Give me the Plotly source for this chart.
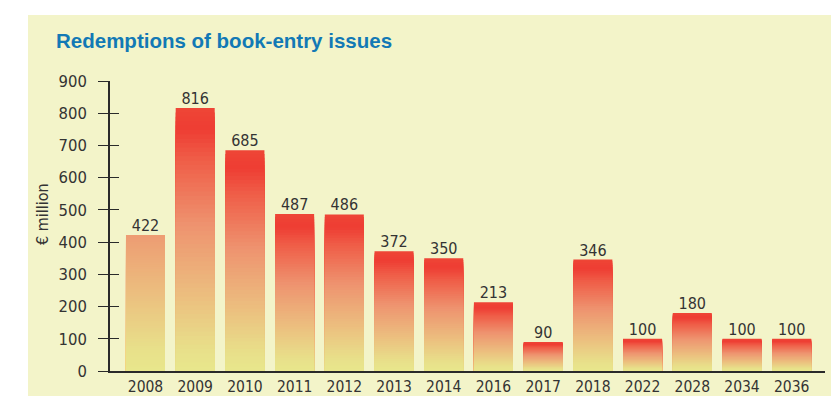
import plotly.graph_objects as go

# ---- data ----
years = ["2008", "2009", "2010", "2011", "2012", "2013", "2014",
         "2016", "2017", "2018", "2022", "2028", "2034", "2036"]
redemptions = [422, 816, 685, 487, 486, 372, 350, 213, 90, 346, 100, 180, 100, 100]
y_ticks = [0, 100, 200, 300, 400, 500, 600, 700, 800, 900]

# ---- style ----
TITLE = "Redemptions of book-entry issues"
FONT = "DejaVu Sans Condensed, Liberation Sans, Arial, sans-serif"
TFONT = "Liberation Sans, Arial, sans-serif"
CREAM = "#F3F4C9"
TEXT = "#333333"
BASE = -7          # bars extend slightly below the axis line
N = 60             # gradient bands
# fraction of the gradient reached at bar top (first bar only reaches the orange)
top_frac = [0.5] + [1.0] * (len(years) - 1)

stops = [
    (0.00, (232, 231, 140)),
    (0.08, (232, 224, 138)),
    (0.30, (236, 188, 126)),
    (0.55, (238, 148, 112)),
    (0.80, (239, 94, 72)),
    (0.92, (238, 61, 51)),
    (1.00, (238, 70, 54)),
]


def grad(t):
    for (t0, c0), (t1, c1) in zip(stops[:-1], stops[1:]):
        if t <= t1:
            f = (t - t0) / (t1 - t0) if t1 > t0 else 0
            return "rgb(%d,%d,%d)" % tuple(round(a + (b - a) * f) for a, b in zip(c0, c1))
    return "rgb(%d,%d,%d)" % stops[-1][1]


fig = go.Figure()
xidx = list(range(len(years)))

for i in range(N):
    frac = (N - i) / N
    tmid = (N - i - 0.5) / N
    fig.add_trace(go.Bar(
        x=xidx,
        y=[v * frac - BASE for v in redemptions],
        base=BASE,
        marker=dict(color=[grad(tmid * tf) for tf in top_frac], line=dict(width=0)),
        cliponaxis=False,
        hoverinfo="skip",
        showlegend=False,
    ))

fig.add_trace(go.Scatter(
    x=xidx, y=redemptions, mode="text",
    text=[str(v) for v in redemptions],
    textposition="top center",
    textfont=dict(family=FONT, size=16, color=TEXT),
    cliponaxis=False, showlegend=False, hoverinfo="skip",
))

# dummy trace on second y-axis to draw the inner half of the crossing ticks
fig.add_trace(go.Scatter(x=[None], y=[None], yaxis="y2", showlegend=False))

L, R, T, B = 110, 6, 81, 25
W, H = 831, 396
pw, ph = W - L - R, H - T - B

fig.update_layout(
    width=W, height=H,
    margin=dict(l=L, r=R, t=T, b=B, pad=0, autoexpand=False),
    paper_bgcolor="white",
    plot_bgcolor="rgba(0,0,0,0)",
    barmode="overlay",
    bargap=0.215,
    showlegend=False,
    font=dict(family=FONT, color=TEXT),
    xaxis=dict(
        range=[-0.714, 13.67],
        tickmode="array", tickvals=xidx, ticktext=years,
        tickfont=dict(size=15.5, color=TEXT),
        showgrid=False, zeroline=False,
        showline=True, linecolor="#2a2a2a", linewidth=1.5,
        ticks="", ticklabelstandoff=1, automargin=False,
        fixedrange=True,
    ),
    yaxis=dict(
        range=[0, 900],
        tickmode="array", tickvals=y_ticks,
        tickfont=dict(size=16.5, color=TEXT),
        showgrid=False, zeroline=False,
        showline=True, linecolor="#2a2a2a", linewidth=1.5,
        ticks="outside", ticklen=10, tickwidth=1.2, tickcolor="#2a2a2a",
        ticklabelstandoff=8, automargin=False,
        fixedrange=True,
    ),
    yaxis2=dict(
        range=[0, 900], overlaying="y", side="left", anchor="x",
        tickmode="array", tickvals=y_ticks,
        showticklabels=False, showgrid=False, zeroline=False, showline=False,
        ticks="inside", ticklen=9, tickwidth=1.2, tickcolor="#2a2a2a",
        automargin=False, fixedrange=True,
    ),
    shapes=[dict(
        type="rect", xref="paper", yref="paper", layer="below",
        x0=(28 - L) / pw, x1=(W - L) / pw + 0.01,
        y0=-(B + 5) / ph, y1=1 + (T - 15) / ph,
        fillcolor=CREAM, line=dict(width=0),
    )],
    annotations=[
        dict(text="<b>" + TITLE + "</b>", xref="paper", yref="paper",
             x=(54 - L) / pw, y=1 + (T - 40) / ph, xanchor="left", yanchor="middle",
             showarrow=False, font=dict(family=TFONT, size=20.5, color="#1279B5")),
        dict(text="€ million", xref="paper", yref="paper",
             x=(42 - L) / pw, y=(T + ph - 214) / ph, xanchor="center", yanchor="middle",
             textangle=-90, showarrow=False, font=dict(family=FONT, size=16, color=TEXT)),
    ],
)

fig.write_html("out.html")
